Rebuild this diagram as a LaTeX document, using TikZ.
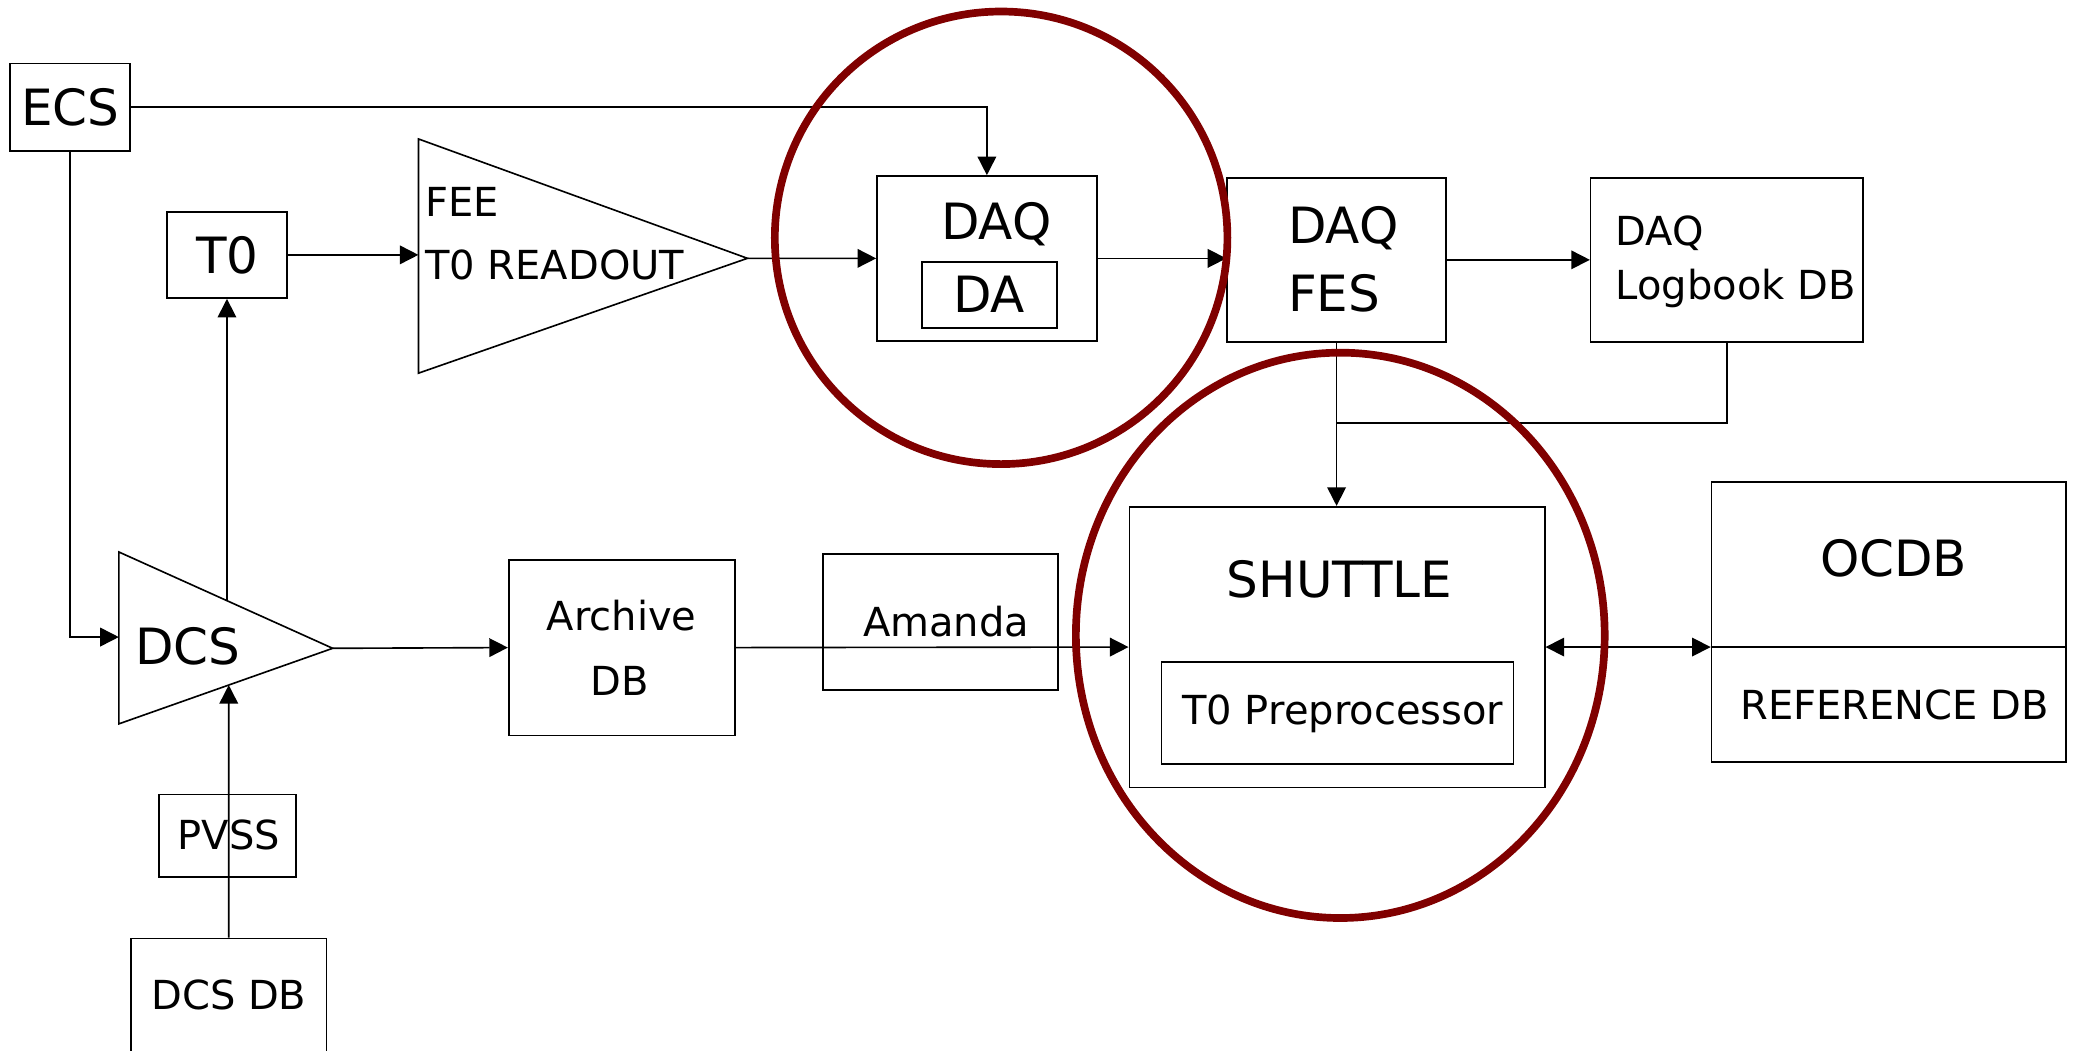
\documentclass[tikz,border=0pt]{standalone}
\usepackage{fontspec}
\setmainfont{DejaVu Sans}
\usetikzlibrary{arrows.meta,fit,calc}
\definecolor{ringred}{RGB}{128,0,0}
\tikzset{
  box/.style={draw, line width=0.7pt, inner sep=0pt},
  big/.style={font=\fontsize{21.5}{26}\selectfont, text height=15.7pt, text depth=0pt, inner sep=0pt},
  small/.style={font=\fontsize{17.2}{21}\selectfont, text height=12.5pt, text depth=0pt, inner sep=0pt},
  conn/.style={line width=0.7pt},
  arr/.style={conn, -{Triangle[length=8pt,width=8pt]}},
  biarr/.style={conn, {Triangle[length=8pt,width=8pt]}-{Triangle[length=8pt,width=8pt]}},
  ring/.style={draw=ringred, line width=3.3pt},
}
\begin{document}
\begin{tikzpicture}[x=0.02cm,y=-0.02cm]
\useasboundingbox (0,0) rectangle (1568,794);
\clip (0,0) rectangle (1568,794);

% boxes
\node[box, fit={(7.7,47.9) (98.3,113.9)}] (ecs) {};
\node[box, fit={(126,160) (217,225.2)}] (t0) {};
\node[box, fit={(662.7,133) (828.8,257.5)}] (daq) {};
\node[box, fit={(696.7,197.8) (798.8,248)}] (da) {};
\node[box, fit={(927.3,134.3) (1092.7,258.4)}] (fes) {};
\node[box, fit={(1202,134.3) (1408,258.2)}] (logbook) {};
\node[box, fit={(384.4,423) (555.6,555.7)}] (archive) {};
\node[box, fit={(621.9,418.6) (799.7,521.4)}] (amanda) {};
\node[box, fit={(853.4,382.9) (1167.3,595)}] (shuttle) {};
\node[box, fit={(877.7,500.3) (1143.6,577.3)}] (prep) {};
\node[box, fit={(1293.3,364) (1561,575.8)}] (ocdb) {};
\node[box, fit={(120.3,600.3) (223.6,662.5)}] (pvss) {};
\node[box, fit={(99,709.2) (246.7,830)}] (dcsdb) {};

% triangles
\coordinate (feeA) at (316.2,105);
\coordinate (feeB) at (316.2,282);
\coordinate (feeT) at (564.8,195.2);
\draw[conn] (feeA) -- (feeT) -- (feeB) -- cycle;
\coordinate (dcsA) at (89.8,417.1);
\coordinate (dcsB) at (89.8,547);
\coordinate (dcsT) at (251.4,489.9);
\draw[conn] (dcsA) -- (dcsT) -- (dcsB) -- cycle;

% texts
\node[big] (ecst) at (53,81) {ECS};
\node[big] (t0t) at (172,192.7) {T0};
\node[small, anchor=west] (feet) at (321,152.6) {FEE};
\node[small, anchor=west] (readt) at (321,200) {T0 READOUT};
\node[big] (daqt) at (753,167.5) {DAQ};
\node[big] (dat) at (747.5,222.4) {DA};
\node[big, anchor=west] (fest1) at (973,170.5) {DAQ};
\node[big, anchor=west] (fest2) at (973,221.7) {FES};
\node[small, anchor=west] (logt1) at (1220.6,174.3) {DAQ};
\node[small, anchor=west] (logt2) at (1220.6,215) {Logbook DB};
\node[big] (dcst) at (141.9,488) {DCS};
\node[small] (archt1) at (469.8,465.5) {Archive};
\node[small] (archt2) at (468,514.6) {DB};
\node[small] (amandat) at (714.9,469.8) {Amanda};
\node[big] (shuttlet) at (1012.2,437.8) {SHUTTLE};
\node[small] (prept) at (1014.7,536.5) {T0 Preprocessor};
\node[big] (ocdbt) at (1430.9,421.9) {OCDB};
\node[small] (reft) at (1431.6,532.5) {REFERENCE DB};
\node[small] (pvsst) at (173,630.6) {PVSS};
\node[small] (dcsdbt) at (173,752.2) {DCS DB};

% connectors
\draw[arr] (ecs.east) -| (daq.north);
\coordinate (dcsin) at (89.8,481.4);
\draw[arr] (ecs.south) |- (dcsin);
\draw[arr] (t0.east) -- (t0.east -| feeA);
\draw[arr] (feeT) -- (daq.west);
\draw[arr] (daq.east) -- (daq.east -| fes.west);
\draw[arr] (fes.east) -- (fes.east -| logbook.west);
\draw[arr] (fes.south) -- (fes.south |- shuttle.north);
\coordinate (jn) at (1010,319.8);
\draw[conn] (logbook.south) |- (jn);
\coordinate (dcsup) at ($(dcsA)!0.5056!(dcsT)$);
\draw[arr] (dcsup) -- (dcsup |- t0.south);
\coordinate (dcsdn) at ($(dcsB)!0.514!(dcsT)$);
\draw[arr] (dcsdb.north) -- (dcsdn);
\draw[arr] (dcsT) -- (archive.west);
\draw[arr] (archive.east) -- (shuttle.west);
\draw[biarr] (shuttle.east) -- (shuttle.east -| ocdb.west);
\draw[conn] (ocdb.west |- shuttle.east) -- (ocdb.east |- shuttle.east);

% rings
\draw[ring] (756.5,179.7) circle [radius=171];
\draw[ring] (1012.8,480.1) ellipse [x radius=199.8, y radius=213.6];
\end{tikzpicture}
\end{document}
